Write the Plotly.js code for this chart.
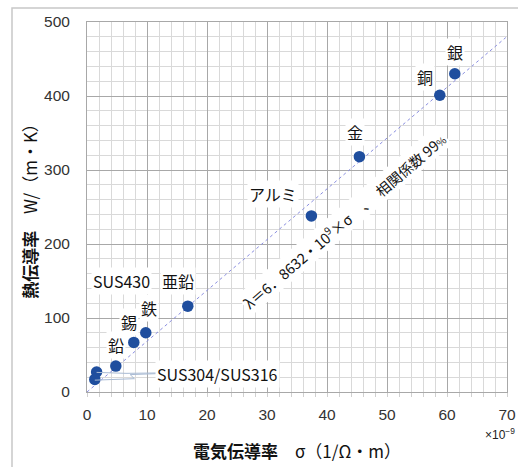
<!DOCTYPE html>
<html>
<head>
<meta charset="utf-8">
<script src="https://cdn.plot.ly/plotly-3.0.1.min.js"></script>
<style>
  html, body { margin: 0; padding: 0; background: #fff; }
  #chart { width: 518px; height: 467px; }
</style>
</head>
<body>
<div id="chart"></div>
<script>
// ---- data ----
const metals = ["銀", "銅", "金", "アルミ", "亜鉛", "鉄", "錫", "鉛", "SUS430", "SUS304/SUS316"];
const sigma  = [61.3, 58.8, 45.4, 37.4, 16.8, 9.8, 7.8, 4.8, 1.6, 1.3];   // ×10^-9 scale as labelled
const lambda = [430, 401, 318, 238, 116, 80, 67, 35, 27, 17];

const trendX = [0, 69.8];
const trendY = [0, 479];

const xTicks = [0, 10, 20, 30, 40, 50, 60, 70];
const yTicks = [0, 100, 200, 300, 400, 500];

const equationText = "λ＝6．8632・10<sup>9</sup>×σ　、　相関係数 99<span style='font-size:10px'>%</span>";

// label placement (position only, in axis units)
const labelPos = [
  [61.3, 459.5], [56.3, 425.7], [44.6, 351.4], [31.0, 267.6], [15.2, 150],
  [10.3, 113.5], [7.0, 94.6], [4.8, 63.5], [5.8, 150], [21.8, 24.3]
];

const JP = '"Noto Sans CJK JP", "Noto Sans", sans-serif';
const NUM = '"Liberation Sans", Arial, sans-serif';

const traces = [
  {
    x: trendX, y: trendY, mode: 'lines', type: 'scatter',
    line: { color: '#8a8ee0', width: 1, dash: 'dot' },
    hoverinfo: 'skip', showlegend: false
  },
  {
    x: sigma, y: lambda, mode: 'markers', type: 'scatter', text: metals,
    marker: { color: '#1f4e9e', size: 11.5 },
    showlegend: false
  }
];

const annotations = metals.map((m, i) => ({
  x: labelPos[i][0], y: labelPos[i][1], xref: 'x', yref: 'y',
  text: m, showarrow: false, bgcolor: '#ffffff', borderpad: 1,
  font: { family: JP, size: 16, color: '#111' }
}));

annotations.push({
  x: 42.9, y: 232.5, xref: 'x', yref: 'y', text: equationText,
  showarrow: false, textangle: -40.5, bgcolor: '#ffffff', borderpad: 1,
  font: { family: JP, size: 14.5, color: '#111' }
});

const L = 87, R = 11, T = 22, B = 75, W = 518, H = 467;
const pw = W - L - R, ph = H - T - B;
const px2x = p => (p - L) / pw;
const py2y = p => (H - B - p) / ph;

annotations.push({
  x: px2x(500), y: py2y(434), xref: 'paper', yref: 'paper', text: '×10<sup>−9</sup>',
  xanchor: 'center', yanchor: 'middle',
  showarrow: false, font: { family: NUM, size: 12, color: '#222' }
});

const lead = { color: '#a9bbd4', width: 1 };
const shapes = [
  // outer chart frame
  { type: 'rect', xref: 'paper', yref: 'paper',
    x0: px2x(12), x1: px2x(540), y0: py2y(500), y1: py2y(8),
    line: { color: '#c8c8c8', width: 1.5 }, fillcolor: 'rgba(0,0,0,0)', layer: 'below' },
  // leader lines to SUS304/SUS316
  { type: 'line', xref: 'x', yref: 'y', x0: 11.6, y0: 25.7, x1: 6.5, y1: 25.2, line: lead },
  { type: 'line', xref: 'x', yref: 'y', x0: 6.5, y0: 25.2, x1: 1.6, y1: 26.5, line: lead },
  { type: 'line', xref: 'x', yref: 'y', x0: 11.6, y0: 24.8, x1: 7.2, y1: 23.5, line: lead },
  { type: 'line', xref: 'x', yref: 'y', x0: 7.2, y0: 23.5, x1: 7.9, y1: 18.0, line: lead },
  { type: 'line', xref: 'x', yref: 'y', x0: 7.9, y0: 18.0, x1: 1.3, y1: 16.0, line: lead }
];

const layout = {
  width: W, height: H,
  margin: { l: L, r: R, t: T, b: B, pad: 0 },
  paper_bgcolor: '#ffffff', plot_bgcolor: '#ffffff',
  showlegend: false,
  xaxis: {
    range: [0, 70], tickvals: xTicks, ticktext: xTicks.map(String),
    showgrid: true, gridcolor: '#a8a8a8', gridwidth: 1,
    minor: { dtick: 2, showgrid: true, gridcolor: '#d9d9d9', ticks: 'outside', ticklen: 4, tickcolor: '#d0d0d0' },
    zeroline: false, showline: true, mirror: true, linecolor: '#a8a8a8', linewidth: 1,
    ticks: '', ticklabelstandoff: 8,
    tickfont: { family: NUM, size: 15.5, color: '#333' },
    title: { text: '<b>電気伝導率</b>　σ（1/Ω・m）', standoff: 24,
             font: { family: JP, size: 17, color: '#111' } },
    fixedrange: true
  },
  yaxis: {
    range: [0, 500], tickvals: yTicks, ticktext: yTicks.map(String),
    showgrid: true, gridcolor: '#a8a8a8', gridwidth: 1,
    minor: { dtick: 20, showgrid: true, gridcolor: '#d9d9d9' },
    zeroline: false, showline: true, mirror: true, linecolor: '#a8a8a8', linewidth: 1,
    ticks: '', ticklabelstandoff: 13,
    tickfont: { family: NUM, size: 15.5, color: '#333' },
    title: { text: '<b>熱伝導率</b>　W/（m・K）', standoff: 2,
             font: { family: JP, size: 17, color: '#111' } },
    fixedrange: true
  },
  annotations: annotations,
  shapes: shapes
};

Plotly.newPlot('chart', traces, layout, { displayModeBar: false, staticPlot: true });
</script>
</body>
</html>
